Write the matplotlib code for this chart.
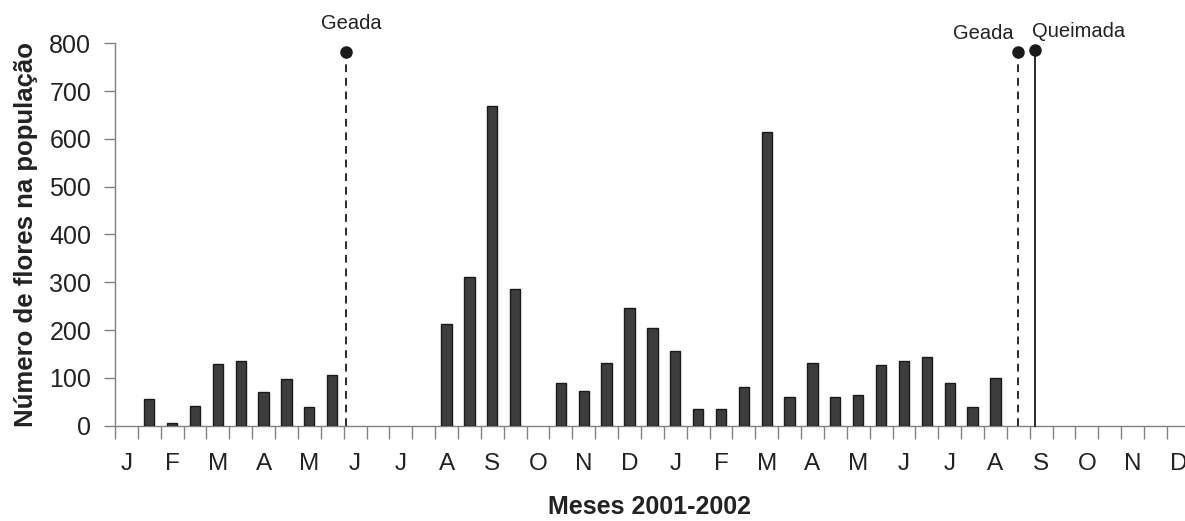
import numpy as np
import matplotlib
matplotlib.use("Agg")
import matplotlib.pyplot as plt

plt.rcParams["font.family"] = ["Liberation Sans", "DejaVu Sans"]

# month initials, one label every two half-month slots (2001-2002)
month_labels = ["J", "F", "M", "A", "M", "J", "J", "A", "S", "O", "N", "D",
                "J", "F", "M", "A", "M", "J", "J", "A", "S", "O", "N", "D"]

# flowers counted per half-month slot (None = no flowers / no sample)
flowers = [None, 56, 5, 42, 130, 136, 71, 98, 38, 106,
           None, None, None, None, 212, 310, 669, 285, None, 89,
           72, 131, 246, 204, 157, 35, 35, 80, 614, 59,
           131, 59, 65, 127, 136, 144, 89, 38, 100]

# events (slot position, marker height, label, line style)
event_pos = [9.6, 39.0, 39.75]
event_top = [781, 781, 785]
event_names = ["Geada", "Geada", "Queimada"]
event_styles = ["--", "--", "-"]

fig = plt.figure(figsize=(11.85, 5.21), dpi=100)
ax = fig.add_axes([0.097, 0.183, 0.903, 0.734])

slots = [i for i, v in enumerate(flowers) if v is not None]
vals = [v for v in flowers if v is not None]
ax.bar(slots, vals, width=0.45, color="#3d3d3d", edgecolor="#1a1a1a", linewidth=1.0, zorder=3)

for pos, top, name, ls in zip(event_pos, event_top, event_names, event_styles):
    ax.plot([pos, pos], [0, top], ls=ls, color="#2a2a2a", lw=1.4, zorder=4,
            dashes=(4, 3) if ls == "--" else (None, None), clip_on=False)
    ax.plot(pos, top, "o", color="#1a1a1a", ms=8, zorder=5, clip_on=False)

txt_kw = dict(textcoords="offset pixels", fontsize=14.5, color="#222222", va="center",
              annotation_clip=False)
ax.annotate(event_names[0], (event_pos[0], event_top[0]), xytext=(5, 29), ha="center", **txt_kw)
ax.annotate(event_names[1], (event_pos[1], event_top[1]), xytext=(-5, 19), ha="right", **txt_kw)
ax.annotate(event_names[2], (event_pos[2], event_top[2]), xytext=(-3, 19), ha="left", **txt_kw)

ax.set_xlim(-0.5, 46.29)
ax.set_ylim(0, 800)
ax.set_yticks(np.arange(0, 801, 100))
ax.set_xticks(np.arange(-0.5, 46.5, 1.0))
ax.set_xticks(np.arange(0, 48, 2), minor=True)
ax.set_xticklabels([])
ax.set_xticklabels(month_labels, minor=True)
ax.tick_params(axis="x", which="major", direction="out", length=9, width=1, color="#808080")
ax.tick_params(axis="x", which="minor", length=0, pad=20, labelsize=17.5, labelcolor="#222222")
ax.tick_params(axis="y", direction="out", length=8, width=1, color="#808080",
               labelsize=18, labelcolor="#222222", pad=9)

for s in ["top", "right"]:
    ax.spines[s].set_visible(False)
for s in ["left", "bottom"]:
    ax.spines[s].set_color("#808080")
    ax.spines[s].set_linewidth(1.0)

ax.set_ylabel("Número de flores na população", fontsize=18.5, fontweight="bold",
              color="#222222", labelpad=8)
ax.set_xlabel("Meses 2001-2002", fontsize=18, fontweight="bold", color="#222222", labelpad=14)

fig.savefig("out.png", dpi=100)
